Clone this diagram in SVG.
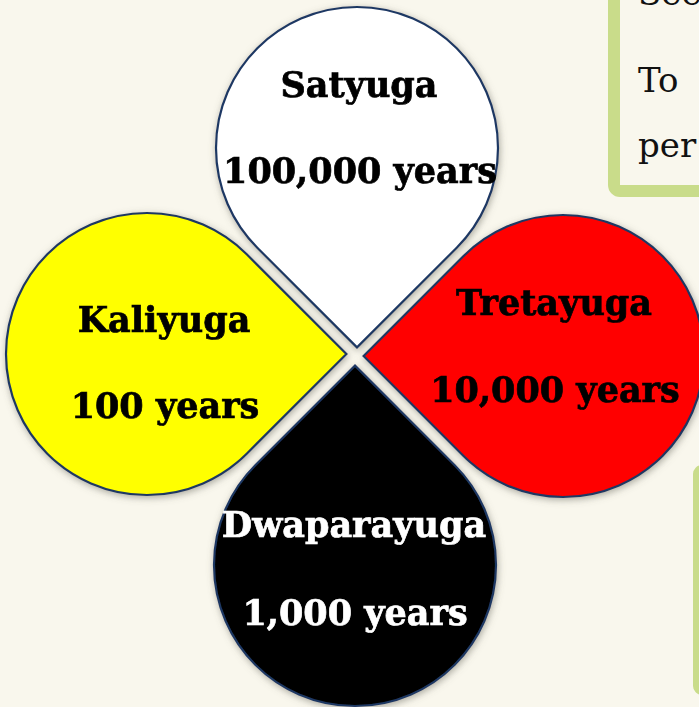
<svg xmlns="http://www.w3.org/2000/svg" width="699" height="707" viewBox="0 0 699 707">
<defs>
<filter id="sh" x="-20%" y="-20%" width="140%" height="140%">
<feGaussianBlur in="SourceAlpha" stdDeviation="3.5"/>
<feOffset dx="1" dy="2" result="b"/>
<feFlood flood-color="#6b6a60" flood-opacity="0.55"/>
<feComposite in2="b" operator="in" result="s"/>
<feMerge><feMergeNode in="s"/><feMergeNode in="SourceGraphic"/></feMerge>
</filter>
<path id="petal" d="M0 199.4 L-99.7 99.7 A141 141 0 1 1 99.7 99.7 Z"/>
</defs>
<style>
.pt{stroke:#1f3864;stroke-width:2.2}
.lbl{font-family:"DejaVu Serif","Liberation Serif",serif;font-weight:bold;font-size:35px;text-anchor:middle;stroke-width:0.7}
.dk{fill:#000;stroke:#000}
.lt{fill:#fff;stroke:#fff}
.box{fill:#f9f7ed;stroke:#c9dc8a}
.bt{font-family:"DejaVu Serif","Liberation Serif",serif;font-size:34px;fill:#111}
</style>
<rect width="699" height="707" fill="#f9f7ed"/>
<g id="box-top">
<rect class="box" x="614" y="-20" width="120" height="211" rx="6" stroke-width="12"/>
<text class="bt" x="638" y="5">See</text>
<text class="bt" x="638" y="92">To</text>
<text class="bt" x="638" y="157">per</text>
</g>
<g id="box-bottom">
<rect class="box" x="696" y="468" width="60" height="224" rx="6" stroke-width="6"/>
</g>
<g filter="url(#sh)">
<g id="satyuga">
<use href="#petal" class="pt" fill="#ffffff" transform="translate(357,148)"/>
<text class="lbl dk" x="359" y="97">Satyuga</text>
<text class="lbl dk" x="360" y="183">100,000 years</text>
</g>
<g id="kaliyuga">
<use href="#petal" class="pt" fill="#ffff00" transform="translate(147,354) rotate(-90)"/>
<text class="lbl dk" x="164" y="332">Kaliyuga</text>
<text class="lbl dk" x="165" y="418">100 years</text>
</g>
<g id="tretayuga">
<use href="#petal" class="pt" fill="#ff0000" transform="translate(563,356) rotate(90)"/>
<text class="lbl dk" x="554" y="315">Tretayuga</text>
<text class="lbl dk" x="555" y="402">10,000 years</text>
</g>
<g id="dwaparayuga">
<use href="#petal" class="pt" fill="#000000" transform="translate(355,565) rotate(180)"/>
<text class="lbl lt" x="354" y="537">Dwaparayuga</text>
<text class="lbl lt" x="355" y="625">1,000 years</text>
</g>
</g>
</svg>
